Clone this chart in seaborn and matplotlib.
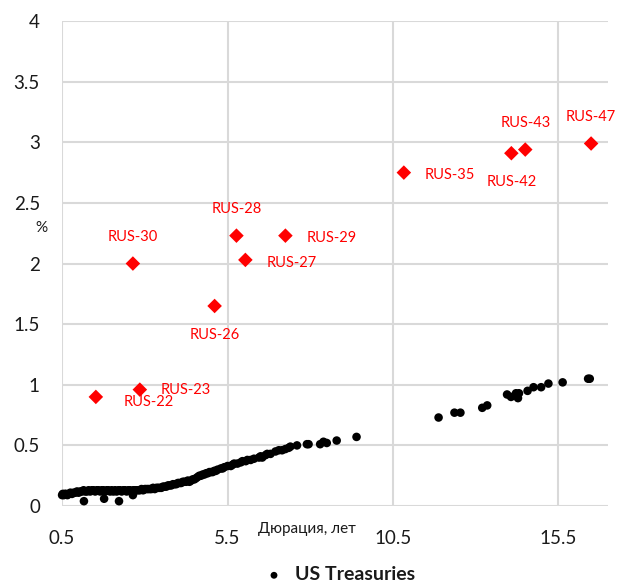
import numpy as np
import pandas as pd
import seaborn as sns
from matplotlib import pyplot as plt

# US Treasuries: duration (years) vs yield (%)
ust_dur = [0.50, 0.52, 0.55, 0.58, 0.62, 0.66, 0.70, 0.75, 0.80, 0.85, 0.90, 0.95,
           1.00, 1.05, 1.10, 1.15, 1.20, 1.25, 1.30, 1.35, 1.40, 1.45, 1.50, 1.55,
           1.60, 1.65, 1.70, 1.75, 1.80, 1.85, 1.90, 1.95, 2.00, 2.05, 2.10, 2.15,
           2.20, 2.25, 2.30, 2.35, 2.40, 2.45, 2.50, 2.55, 2.60, 2.65, 2.70, 2.75,
           2.80, 2.85, 2.90, 2.95, 3.00, 3.05, 3.10, 3.15, 3.20, 3.25, 3.30, 3.35,
           3.40, 3.45, 3.50, 3.55, 3.60, 3.65, 3.70, 3.75, 3.80, 3.85, 3.90, 3.95,
           4.00, 4.05, 4.10, 4.15, 4.20, 4.25, 4.30, 4.35, 4.40, 4.45, 4.50, 4.55,
           4.60, 4.65, 4.70, 4.75, 4.80, 4.85, 4.90, 4.95, 5.00, 5.05, 5.10, 5.15,
           5.20, 5.30, 5.35, 5.40, 5.50, 5.60, 5.65, 5.70, 5.80, 5.90, 5.95, 6.05,
           6.10, 6.20, 6.30, 6.45, 6.50, 6.55, 6.65, 6.70, 6.80, 6.95, 7.05, 7.15,
           7.25, 7.35, 7.40, 7.60, 7.90, 7.95, 8.30, 8.40, 8.50, 8.80, 9.40,
           1.16, 1.77, 2.22, 2.64,
           11.88, 12.36, 12.54, 13.20, 13.35, 13.95, 14.07, 14.22, 14.31, 14.28,
           14.57, 14.75, 14.98, 15.20, 15.63, 16.40, 16.45]
ust_yld = [0.09, 0.10, 0.09, 0.10, 0.10, 0.09, 0.10, 0.11, 0.10, 0.11, 0.11, 0.12,
           0.11, 0.12, 0.12, 0.13, 0.12, 0.12, 0.13, 0.12, 0.13, 0.13, 0.12, 0.13,
           0.13, 0.12, 0.13, 0.13, 0.12, 0.13, 0.13, 0.12, 0.13, 0.12, 0.13, 0.12,
           0.13, 0.13, 0.12, 0.13, 0.13, 0.12, 0.13, 0.13, 0.12, 0.13, 0.13, 0.13,
           0.13, 0.13, 0.14, 0.13, 0.14, 0.14, 0.14, 0.14, 0.14, 0.15, 0.14, 0.15,
           0.15, 0.15, 0.15, 0.16, 0.16, 0.16, 0.17, 0.17, 0.17, 0.18, 0.18, 0.18,
           0.19, 0.19, 0.19, 0.20, 0.20, 0.20, 0.21, 0.20, 0.21, 0.22, 0.22, 0.23,
           0.24, 0.25, 0.25, 0.26, 0.26, 0.27, 0.27, 0.28, 0.28, 0.28, 0.29, 0.29,
           0.30, 0.31, 0.31, 0.32, 0.33, 0.33, 0.34, 0.35, 0.35, 0.36, 0.37, 0.37,
           0.38, 0.38, 0.39, 0.40, 0.41, 0.40, 0.42, 0.43, 0.43, 0.45, 0.46, 0.46,
           0.47, 0.48, 0.49, 0.50, 0.51, 0.51, 0.51, 0.53, 0.52, 0.54, 0.57,
           0.04, 0.06, 0.04, 0.09,
           0.73, 0.77, 0.77, 0.81, 0.83, 0.92, 0.90, 0.93, 0.93, 0.89,
           0.95, 0.98, 0.98, 1.01, 1.02, 1.05, 1.05]

# Russian eurobonds
rus_names = ['RUS-22', 'RUS-23', 'RUS-30', 'RUS-26', 'RUS-28', 'RUS-27',
             'RUS-29', 'RUS-35', 'RUS-42', 'RUS-43', 'RUS-47']
rus_dur = [1.52, 2.85, 2.64, 5.11, 5.77, 6.04, 7.25, 10.83, 14.08, 14.50, 16.49]
rus_yld = [0.90, 0.96, 2.00, 1.65, 2.23, 2.03, 2.23, 2.75, 2.91, 2.94, 2.99]

x_ticks = [0.5, 5.5, 10.5, 15.5]
y_ticks = [0, 0.5, 1, 1.5, 2, 2.5, 3, 3.5, 4]
y_tick_labels = ['0', '0.5', '1', '1.5', '2', '2.5', '3', '3.5', '4']

sns.set_style('white')
plt.rcParams['font.family'] = ['Lato', 'DejaVu Sans']

ust = pd.DataFrame({'dur': ust_dur, 'yld': ust_yld})
rus = pd.DataFrame({'dur': rus_dur, 'yld': rus_yld, 'name': rus_names})

fig = plt.figure(figsize=(6.21, 5.85), dpi=100)
ax = fig.add_axes([0.1, 0.135, 0.879, 0.829])

sns.scatterplot(data=ust, x='dur', y='yld', ax=ax, color='black', s=38,
                edgecolor='none', label='US Treasuries', clip_on=False, zorder=3)
sns.scatterplot(data=rus, x='dur', y='yld', ax=ax, color='#ff0000', marker='D',
                s=55, edgecolor='none', legend=False, clip_on=False, zorder=4)

# label offsets (points) for each bond name
offsets = {'RUS-22': (20, -4, 'left'), 'RUS-23': (15, 0, 'left'),
           'RUS-30': (0, 19, 'center'), 'RUS-26': (0, -21, 'center'),
           'RUS-28': (0, 19, 'center'), 'RUS-27': (15, -2, 'left'),
           'RUS-29': (15, -2, 'left'), 'RUS-35': (15, -2, 'left'),
           'RUS-42': (0, -21, 'center'), 'RUS-43': (0, 19, 'center'),
           'RUS-47': (0, 19, 'center')}
for n, xv, yv in zip(rus_names, rus_dur, rus_yld):
    dx, dy, ha = offsets[n]
    ax.annotate(n, (xv, yv), xytext=(dx, dy), textcoords='offset points',
                ha=ha, va='center', color='#ff0000', fontsize=10.5)

ax.set_xlim(0.5, 17.0)
ax.set_ylim(0, 4)
ax.set_xticks(x_ticks)
ax.set_xticklabels([str(t) for t in x_ticks])
ax.set_yticks(y_ticks)
ax.set_yticklabels(y_tick_labels)
ax.tick_params(axis='both', length=0, labelsize=13.5, colors='#1a1a1a')
ax.tick_params(axis='x', pad=17)
ax.tick_params(axis='y', pad=16)
ax.grid(True, color='#d9d9d9', linewidth=1.5)
ax.set_axisbelow(True)
for s in ax.spines.values():
    s.set_visible(False)

ax.set_xlabel('Дюрация, лет', fontsize=11, color='#1a1a1a')
ax.xaxis.set_label_coords(0.449, -0.032)
ax.set_ylabel('%', fontsize=11, color='#1a1a1a', rotation=0, va='center')
ax.yaxis.set_label_coords(-0.037, 0.573)

leg = ax.legend(loc='center', bbox_to_anchor=(0.5, -0.142), frameon=False,
                handletextpad=0.1, markerscale=0.8,
                prop={'weight': 'bold', 'size': 14})
for t in leg.get_texts():
    t.set_color('#1a1a1a')

plt.savefig('out.png', dpi=100)
